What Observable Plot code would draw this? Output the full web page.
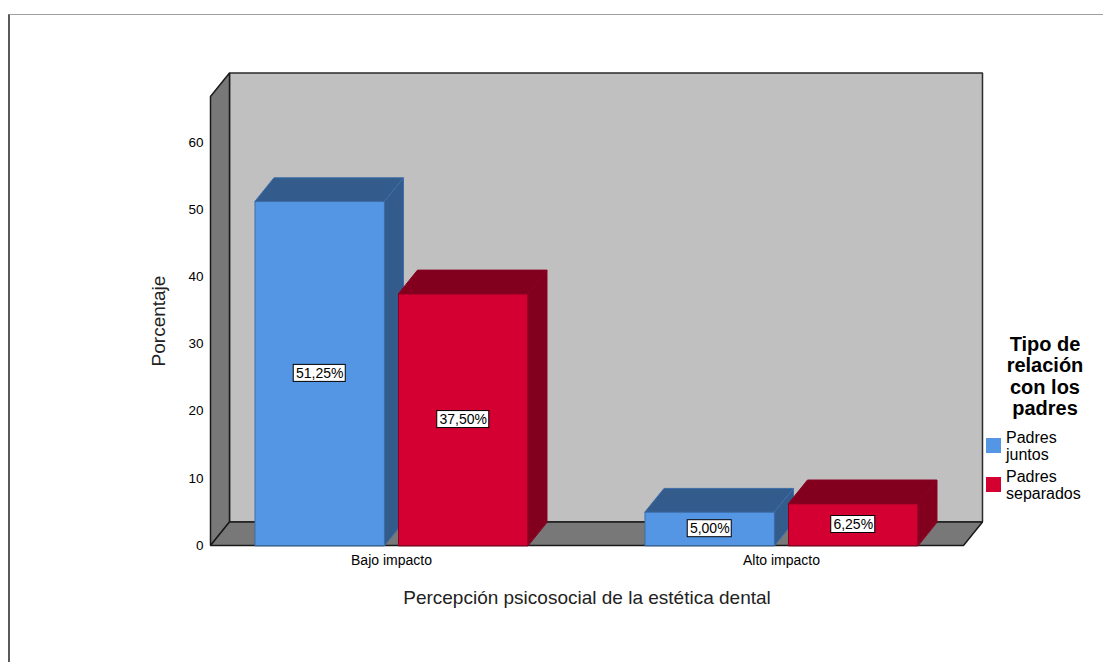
<!DOCTYPE html>
<html>
<head>
<meta charset="utf-8">
<script src="https://cdn.jsdelivr.net/npm/d3@7"></script>
<script src="https://cdn.jsdelivr.net/npm/@observablehq/plot@0.6"></script>
<style>
  body { margin: 0; background: #fff; font-family: "Liberation Sans", Arial, sans-serif; }
  #wrap { position: relative; width: 1103px; height: 662px; overflow: hidden; background: #fff; }
  #frame { position: absolute; left: 8px; top: 14px; width: 1200px; height: 700px;
           border-top: 1px solid #a0a0a0; border-left: 2px solid #5a5a5a; pointer-events: none; }
  #chart { position: absolute; left: 0; top: 0; }
  #legTitle { position: absolute; left: 985px; top: 334px; width: 120px; text-align: center;
              font-weight: bold; font-size: 20px; line-height: 21.3px; color: #000; }
  .item { position: absolute; left: 986px; font-size: 16px; line-height: 17px; color: #000; }
  .sw { position: absolute; left: 0; width: 15px; height: 15px; }
  .lab { position: absolute; left: 20px; top: 0; white-space: nowrap; }
</style>
</head>
<body>
<div id="wrap">
  <div id="chart"></div>
  <div id="frame"></div>
  <div id="legend"></div>
</div>
<script>
// ---- data ----
const categories = ["Bajo impacto", "Alto impacto"];
const seriesNames = ["Padres juntos", "Padres separados"];
const padresJuntos = [51.25, 5.00];
const padresSeparados = [37.50, 6.25];
const yTicks = [0, 10, 20, 30, 40, 50, 60];
const legendTitle = ["Tipo de", "relación", "con los", "padres"];
const xTitle = "Percepción psicosocial de la estética dental";
const yTitle = "Porcentaje";

// ---- style / layout ----
const frontColors = ["#5596e4", "#d50032"];
const darkColors = ["#335c8d", "#82001e"];
const edgeColors = ["#3e6ea8", "#8a0022"];
const W = 1103, H = 662;
const xMin = -0.4641, xMax = 1.4667, yMax = 66.85;
const dX = 0.0487, dY = 3.5; // depth offset in scale units
const gap = 0.018, half = 0.35;

const valueSets = [padresJuntos, padresSeparados];
const bars = [];
categories.forEach((c, i) => {
  valueSets.forEach((arr, s) => {
    const x1 = s === 0 ? i - half : i + gap;
    const x2 = s === 0 ? i - gap : i + half;
    bars.push({cat: c, series: seriesNames[s], s, value: arr[i], x1, x2, cx: (x1 + x2) / 2,
               label: arr[i].toFixed(2).replace(".", ",") + "%"});
  });
});

const polys = [];
let pid = 0;
function poly(pts, fill, stroke, sw) {
  const id = pid++;
  pts.forEach(([x, y]) => polys.push({id, x, y, fill, stroke, sw}));
}
// back wall, left wall, floor
poly([[xMin + dX, dY], [xMin + dX, yMax + dY], [xMax + dX, yMax + dY], [xMax + dX, dY]], "#c0c0c0", "#2a2a2a", 1.5);
poly([[xMin, 0], [xMin, yMax], [xMin + dX, yMax + dY], [xMin + dX, dY]], "#787878", "#1a1a1a", 1.5);
poly([[xMin, 0], [xMin + dX, dY], [xMax + dX, dY], [xMax, 0]], "#787878", "#1a1a1a", 1.5);
// bars: front, top, side
bars.forEach(b => {
  const f = frontColors[b.s], d = darkColors[b.s], e = edgeColors[b.s];
  poly([[b.x1, 0], [b.x1, b.value], [b.x2, b.value], [b.x2, 0]], f, e, 1);
  poly([[b.x1, b.value], [b.x1 + dX, b.value + dY], [b.x2 + dX, b.value + dY], [b.x2, b.value]], d, e, 1);
  poly([[b.x2, 0], [b.x2, b.value], [b.x2 + dX, b.value + dY], [b.x2 + dX, dY]], d, e, 1);
});

const labelLens = Array.from(new Set(bars.map(b => b.label.length)));
const boxMarks = labelLens.map(L => Plot.rect(bars.filter(b => b.label.length === L), {
  x1: "cx", x2: "cx", y1: b => b.value / 2, y2: b => b.value / 2,
  fill: "white", stroke: "black", strokeWidth: 1,
  insetLeft: -(8 * L + 4) / 2, insetRight: -(8 * L + 4) / 2, insetTop: -8.5, insetBottom: -8.5
}));

const chart = Plot.plot({
  width: W, height: H,
  marginLeft: 210, marginRight: 140, marginTop: 96, marginBottom: 117,
  x: {type: "linear", domain: [xMin, xMax]},
  y: {type: "linear", domain: [0, yMax]},
  style: {fontFamily: "'Liberation Sans', Arial, sans-serif", color: "#000", background: "transparent"},
  marks: [
    Plot.line(polys, {x: "x", y: "y", z: "id", fill: "fill", stroke: "stroke", strokeWidth: "sw",
                      curve: "linear-closed", strokeLinejoin: "miter"}),
    ...boxMarks,
    Plot.text(bars, {x: "cx", y: b => b.value / 2, text: "label", fontSize: 14, fill: "#000"}),
    Plot.axisY(yTicks, {tickSize: 0, tickPadding: 7, fontSize: 13.5, label: null}),
    Plot.axisX([0, 1], {tickFormat: i => categories[i], tickSize: 0, tickPadding: 10, fontSize: 14, label: null}),
    Plot.text([yTitle], {frameAnchor: "left", dx: -52, rotate: -90, text: d => d, fontSize: 19,
                         textAnchor: "middle", lineAnchor: "middle", fill: "#222"}),
    Plot.text([xTitle], {frameAnchor: "bottom", dy: 52, text: d => d, fontSize: 19,
                         textAnchor: "middle", lineAnchor: "middle", fill: "#222"})
  ]
});
document.getElementById("chart").appendChild(chart);

// legend
const leg = document.getElementById("legend");
const t = document.createElement("div");
t.id = "legTitle";
t.innerHTML = legendTitle.join("<br>");
leg.appendChild(t);
const itemTops = [429, 468];
seriesNames.forEach((name, s) => {
  const it = document.createElement("div");
  it.className = "item";
  it.style.top = itemTops[s] + "px";
  const sw = document.createElement("div");
  sw.className = "sw";
  sw.style.background = frontColors[s];
  sw.style.top = "9px";
  it.appendChild(sw);
  const lab = document.createElement("div");
  lab.className = "lab";
  lab.innerHTML = name.replace(" ", "<br>");
  it.appendChild(lab);
  leg.appendChild(it);
});
</script>
</body>
</html>
